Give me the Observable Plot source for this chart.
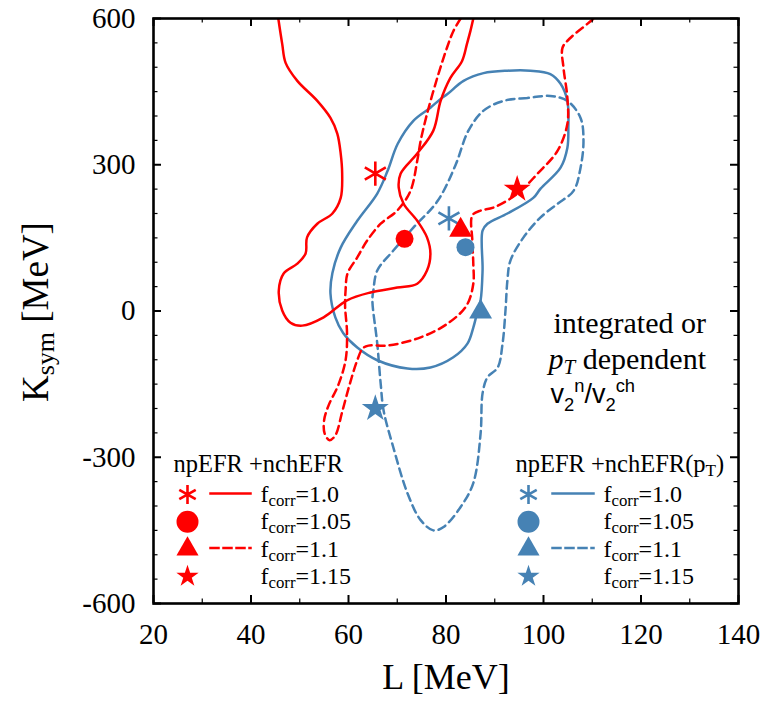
<!DOCTYPE html>
<html><head><meta charset="utf-8">
<script src="https://cdn.jsdelivr.net/npm/d3@7"></script>
<script src="https://cdn.jsdelivr.net/npm/@observablehq/plot@0.6"></script>
<style>html,body{margin:0;padding:0;background:#fff} svg{display:block}</style>
</head><body>
<div id="chart"></div>
<script>
// ---------- data (L [MeV], Ksym [MeV]) ----------
const redSolidL = [45.6,46.4,47.1,49.5,53.6,56.3,57.7,58.4,58.7,58.4,56.7,53.6,51.5,51.2,49.5,46.7,45.7,46.4,48.1,50.5,54.9,59.7,64.5,70.0,74.1,76.1,76.8,76.1,74.1,71.3,70.3,70.7,74.1,77.4,78.9,80.9,83.3,84.3,85.0,85.6];
const redSolidK = [600,548,509,472,431,396,364,323,282,232,200,179,151,118,97,77,42,1,-24,-30,-13,22,38,48,56,83,118,151,185,220,253,282,323,370,431,478,513,548,574,600];

const redDashL = [83.0,81.5,80.2,78.2,76.1,74.8,74.1,72.7,70.0,66.6,63.8,61.8,59.8,59.4,59.3,59.7,59.4,57.9,55.9,55.0,55.1,56.1,57.3,58.7,60.2,61.8,62.9,64.1,68.0,74.8,80.3,84.2,85.6,85.6,85.4,85.4,87.1,89.7,94.7,98.8,102.9,104.9,104.9,104.1,103.9,105.5,109.0,110.3];
const redDashK = [600,574,540,478,404,349,308,246,206,179,144,110,77,42,10,-46,-101,-152,-194,-224,-251,-265,-255,-207,-152,-101,-77,-71,-71,-54,-26,11,56,97,144,196,206,212,241,282,329,384,437,499,540,560,589,600];

const blueSolidL = [78.9,76.8,73.3,70.1,68.0,65.9,61.8,58.4,56.7,56.3,57.3,58.9,61.8,65.9,72.1,76.8,81.5,84.4,85.6,86.5,87.1,87.5,87.5,88.5,92.6,97.9,99.4,103.5,104.9,105.1,104.9,103.5,101.4,97.3,92.6,87.7,83.6,80.3];
const blueSolidK = [435,417,390,343,287,241,185,130,78,36,-13,-45,-75,-101,-118,-116,-95,-67,-34,1,22,83,165,179,200,232,251,294,335,376,431,466,486,493,493,488,472,445];

const blueDashL = [101.4,96.7,91.8,87.7,84.6,81.9,78.3,73.3,69.2,65.9,65.1,64.9,65.9,66.6,67.2,69.2,72.1,74.8,77.4,79.5,83.0,85.6,87.1,87.5,88.5,90.6,91.6,92.2,92.6,93.2,95.9,99.4,102.9,106.2,107.6,108.2,107.6,104.9];
const blueDashK = [441,437,431,411,370,298,226,171,124,83,42,22,-67,-149,-204,-280,-374,-429,-450,-443,-402,-353,-251,-169,-136,-116,-67,1,63,103,151,192,220,247,294,349,396,431];

// best-fit points: f_corr = 1.0, 1.05, 1.1, 1.15
const markerSymbols = ["asterisk","circle","triangle","star"];
const redPointL = [65.5, 71.5, 83.0, 94.6];
const redPointK = [282, 148, 166, 250];
const bluePointL = [80.6, 84.0, 87.1, 65.5];
const bluePointK = [190, 131, -2, -200];

// axes
const xTickLabels = [20,40,60,80,100,120,140];
const xMinorTicks = [30,50,70,90,110,130];
const yTickLabels = [-600,-300,0,300,600];
const yMinorTicks = d3.range(-550, 600, 50).filter(v => v % 300 !== 0);

// texts
const xLabel = "L [MeV]";
const yLabel = "K_{sym} [MeV]";
const noteLines = ["integrated or", "~{p}_{~T} dependent", "v_{2}^{n}/v_{2}^{ch}"];
const legendTitles = ["npEFR +nchEFR", "npEFR +nchEFR(p_{T})"];
const legendLabels = ["f_{corr}=1.0","f_{corr}=1.05","f_{corr}=1.1","f_{corr}=1.15"];
const legendLineRows = [0, 2]; // solid -> f=1.0, dashed -> f=1.1

// ---------- layout / style ----------
const W = 778, H = 701, mL = 153, mR = 40, mT = 18, mB = 98;
const fw = W - mL - mR, fh = H - mT - mB;
const serif = "Liberation Serif, Times New Roman, serif";
const sans = "Liberation Sans, Arial, sans-serif";
const RED = "#ff0000", BLUE = "#4682b4";
const DASH = "8,5";
const chartR = {asterisk: 11.5, circle: 9, triangle: 8.5, star: 8.5};
const legR = {asterisk: 9, circle: 11, triangle: 8.2, star: 7};

const toRows = (Ls, Ks) => Ls.map((L, i) => ({L, K: Ks[i]}));

const marks = [];
// contours
marks.push(Plot.line(toRows(blueSolidL, blueSolidK), {x: "L", y: "K", stroke: BLUE, strokeWidth: 2.5, curve: "catmull-rom-closed", clip: true}));
marks.push(Plot.line(toRows(blueDashL, blueDashK), {x: "L", y: "K", stroke: BLUE, strokeWidth: 2.5, strokeDasharray: DASH, curve: "catmull-rom-closed", clip: true}));
marks.push(Plot.line(toRows(redSolidL, redSolidK), {x: "L", y: "K", stroke: RED, strokeWidth: 2.5, curve: "catmull-rom", clip: true}));
marks.push(Plot.line(toRows(redDashL, redDashK), {x: "L", y: "K", stroke: RED, strokeWidth: 2.5, strokeDasharray: DASH, curve: "catmull-rom", clip: true}));

// points
function symStyle(sym, color) {
  return sym === "asterisk" ? {fill: "none", stroke: color, strokeWidth: 2.6} : {fill: color, stroke: "none"};
}
markerSymbols.forEach((sym, i) => {
  marks.push(Plot.dot([{L: redPointL[i], K: redPointK[i]}], {x: "L", y: "K", symbol: sym, r: chartR[sym], ...symStyle(sym, RED)}));
  marks.push(Plot.dot([{L: bluePointL[i], K: bluePointK[i]}], {x: "L", y: "K", symbol: sym, r: chartR[sym], ...symStyle(sym, BLUE)}));
});

// frame and inward ticks on all four sides
marks.push(Plot.frame({stroke: "black", strokeWidth: 2.6}));
const major = 8, minor = 4.5;
marks.push(Plot.tickX(xTickLabels, {x: d => d, insetTop: fh - major, stroke: "black", strokeWidth: 2}));
marks.push(Plot.tickX(xTickLabels, {x: d => d, insetBottom: fh - major, stroke: "black", strokeWidth: 2}));
marks.push(Plot.tickX(xMinorTicks, {x: d => d, insetTop: fh - minor, stroke: "black", strokeWidth: 1.2}));
marks.push(Plot.tickX(xMinorTicks, {x: d => d, insetBottom: fh - minor, stroke: "black", strokeWidth: 1.2}));
marks.push(Plot.tickY(yTickLabels, {y: d => d, insetRight: fw - major, stroke: "black", strokeWidth: 2}));
marks.push(Plot.tickY(yTickLabels, {y: d => d, insetLeft: fw - major, stroke: "black", strokeWidth: 2}));
marks.push(Plot.tickY(yMinorTicks, {y: d => d, insetRight: fw - minor, stroke: "black", strokeWidth: 1.2}));
marks.push(Plot.tickY(yMinorTicks, {y: d => d, insetLeft: fw - minor, stroke: "black", strokeWidth: 1.2}));

// axes (labels only)
marks.push(Plot.axisX({ticks: xTickLabels, tickSize: 0, tickPadding: 20, fontSize: 29, fontFamily: serif, label: null, tickFormat: d => String(d), fill: "black"}));
marks.push(Plot.axisY({ticks: yTickLabels, tickSize: 0, tickPadding: 18, fontSize: 29, fontFamily: serif, label: null, tickFormat: d => String(d), fill: "black"}));

// axis titles
marks.push(Plot.text([xLabel], {text: d => d, frameAnchor: "bottom", dy: 85, lineAnchor: "bottom", fontSize: 36, fontFamily: serif, fill: "black"}));
marks.push(Plot.text([yLabel], {text: d => d, frameAnchor: "left", dx: -106, dy: 1, rotate: -90, lineAnchor: "bottom", textAnchor: "middle", fontSize: 37, fontFamily: serif, fill: "black"}));

// annotation
const noteDx = [400, 395, 397], noteDy = [21.5, 57.5, 91.5];
noteLines.forEach((t, i) => {
  marks.push(Plot.text([t], {text: d => d, frameAnchor: "left", dx: noteDx[i], dy: noteDy[i], lineAnchor: "bottom", textAnchor: "start", fontSize: i === 2 ? 27 : 30, fontFamily: i === 2 ? sans : serif, fill: "black"}));
});

// legends
const legendBlocks = [
  {color: RED, titleDx: 20, symDx: 34, lineL: 57, lineR: 97, textDx: 107},
  {color: BLUE, titleDx: 362, symDx: 375, lineL: 399, lineR: 440, textDx: 450}
];
const rowDy0 = -109, rowGap = 27.3, titleDy = -132;
legendBlocks.forEach((b, k) => {
  marks.push(Plot.text([legendTitles[k]], {text: d => d, frameAnchor: "bottom-left", dx: b.titleDx, dy: titleDy, lineAnchor: "bottom", textAnchor: "start", fontSize: 24.5, fontFamily: serif, fill: "black"}));
  markerSymbols.forEach((sym, i) => {
    const dy = rowDy0 + rowGap * i;
    marks.push(Plot.dot([sym], {frameAnchor: "bottom-left", dx: b.symDx, dy, symbol: sym, r: legR[sym], ...symStyle(sym, b.color)}));
    marks.push(Plot.text([legendLabels[i]], {text: d => d, frameAnchor: "bottom-left", dx: b.textDx, dy: dy + 7.5, lineAnchor: "bottom", textAnchor: "start", fontSize: 24, fontFamily: serif, fill: "black"}));
  });
  legendLineRows.forEach((row, j) => {
    const yline = -(rowDy0 + rowGap * row) + 1;
    marks.push(Plot.frame({anchor: "bottom", insetLeft: b.lineL, insetRight: fw - b.lineR, insetBottom: yline, stroke: b.color, strokeWidth: 2.5, strokeDasharray: j === 1 ? DASH : null}));
  });
});

const svg = Plot.plot({
  width: W, height: H,
  marginLeft: mL, marginRight: mR, marginTop: mT, marginBottom: mB,
  x: {domain: [20, 140]},
  y: {domain: [-600, 600]},
  style: {background: "white", color: "black", overflow: "visible"},
  marks
});
document.getElementById("chart").appendChild(svg);

// rich text: _{sub}, ^{sup}, ~{italic}
function richText(root) {
  d3.select(root).selectAll("text").each(function () {
    const s = this.textContent;
    if (!/[_^~]\{/.test(s)) return;
    const node = this;
    const cs = getComputedStyle(node);
    const fs = parseFloat(cs.fontSize);
    const isSans = /Sans|Arial/i.test(cs.fontFamily);
    const subShift = (isSans ? 0.3 : 0.17) * fs, supShift = -0.38 * fs, small = (isSans ? 0.68 : 0.7) * fs;
    node.textContent = "";
    let shift = 0;
    const add = (txt, kind) => {
      if (!txt) return;
      let target = 0, size = null, italic = false;
      if (kind === "_") { target = subShift; size = small; }
      else if (kind === "^") { target = supShift; size = small; }
      else if (kind === "~") italic = true;
      if (txt.startsWith("~")) { italic = true; txt = txt.slice(1); }
      const t = d3.select(node).append("tspan").text(txt);
      if (target !== shift) t.attr("dy", target - shift);
      shift = target;
      if (size) t.attr("font-size", size);
      if (italic) t.attr("font-style", "italic");
    };
    const re = /([_^~])\{([^}]*)\}/g;
    let last = 0, m;
    while ((m = re.exec(s))) { add(s.slice(last, m.index), null); add(m[2], m[1]); last = re.lastIndex; }
    add(s.slice(last), null);
  });
}
richText(svg);
</script>
</body></html>
